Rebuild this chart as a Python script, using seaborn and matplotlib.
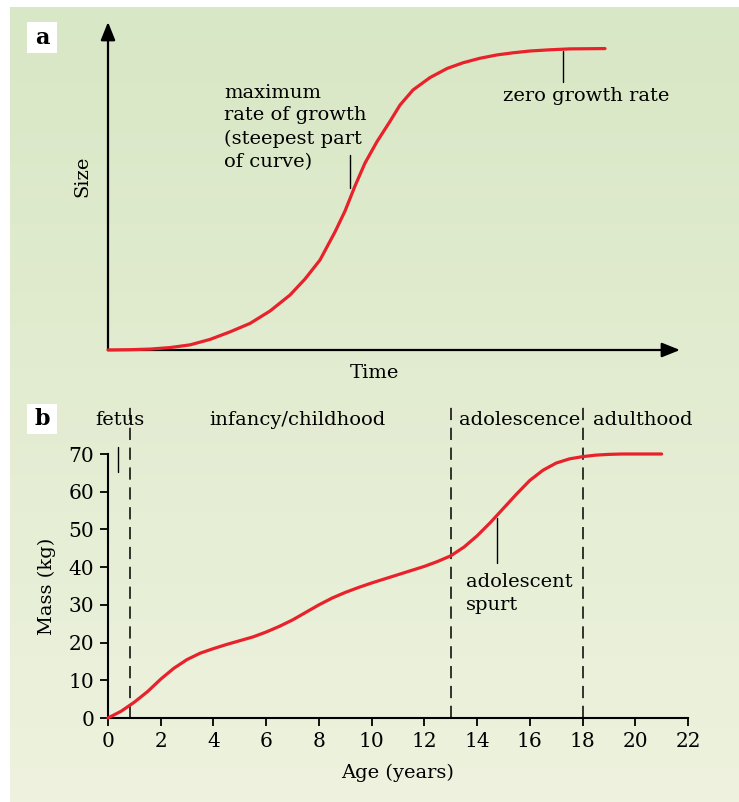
import matplotlib
matplotlib.use("Agg")
import matplotlib.pyplot as plt
from matplotlib.patches import Rectangle
import numpy as np
import pandas as pd
import seaborn as sns

# panel a: generic sigmoid growth curve (arbitrary units)
time_a = [0, 0.44, 0.84, 1.24, 1.64, 2.04, 2.44, 2.84, 3.24, 3.64, 3.94, 4.24,
          4.54, 4.74, 4.94, 5.14, 5.38, 5.64, 5.84, 6.1, 6.44, 6.78, 7.1, 7.44,
          7.78, 8.1, 8.44, 8.84, 9.24, 9.94]
size_a = [0, 0.01, 0.03, 0.08, 0.17, 0.35, 0.6, 0.88, 1.29, 1.82, 2.35, 2.98,
          3.91, 4.6, 5.43, 6.19, 6.9, 7.57, 8.11, 8.61, 9.02, 9.32, 9.51, 9.66,
          9.77, 9.84, 9.9, 9.94, 9.97, 9.98]

# panel b: human body mass with age
age = [0, 0.5, 1, 1.5, 2, 2.5, 3, 3.5, 4, 4.5, 5, 5.5, 6, 6.5, 7, 7.5, 8, 8.5,
       9, 9.5, 10, 10.5, 11, 11.5, 12, 12.5, 13, 13.5, 14, 14.5, 15, 15.5, 16,
       16.5, 17, 17.5, 18, 18.5, 19, 19.5, 20, 21]
mass = [0, 1.8, 4.2, 7, 10.3, 13.2, 15.5, 17.2, 18.4, 19.5, 20.5, 21.5, 22.8,
        24.3, 26, 28, 30, 31.8, 33.3, 34.6, 35.8, 36.9, 38, 39.1, 40.2, 41.5,
        43, 45.3, 48.3, 51.8, 55.6, 59.4, 63, 65.7, 67.6, 68.7, 69.3, 69.7,
        69.9, 70, 70, 70]
stage_bounds = [0.85, 13, 18]
stage_names = ["fetus", "infancy/childhood", "adolescence", "adulthood"]
stage_label_x = [0.45, 7.17, 15.6, 20.3]
x_ticks = list(range(0, 23, 2))
y_ticks = list(range(0, 71, 10))

RED = "#e8212b"
W, H = 739, 802

sns.set_style("white")
plt.rcParams["font.family"] = ["DejaVu Serif"]
plt.rcParams["font.size"] = 14
plt.rcParams["text.color"] = "black"
plt.rcParams["axes.labelcolor"] = "black"

fig = plt.figure(figsize=(W / 100, H / 100), dpi=100)


def box(x0, y0, x1, y1):
    # pixel box (top-left origin) -> figure fraction rect
    return [x0 / W, 1 - y1 / H, (x1 - x0) / W, (y1 - y0) / H]


# green gradient background
bg = fig.add_axes(box(10, 7, W, H))
grad = np.linspace(0, 1, 256)[:, None]
top = np.array([216, 231, 197]) / 255
bot = np.array([238, 242, 222]) / 255
img = top[None, None, :] * (1 - grad[:, :, None]) + bot[None, None, :] * grad[:, :, None]
bg.imshow(img, aspect="auto", extent=[0, 1, 0, 1])
bg.axis("off")
bg.set_zorder(-5)

# ---- panel a ----
ax1 = fig.add_axes(box(108, 22, 680, 350))
ax1.patch.set_alpha(0)
df_a = pd.DataFrame({"time": time_a, "size": size_a})
sns.lineplot(data=df_a, x="time", y="size", ax=ax1, color=RED, lw=2.3,
             zorder=5, clip_on=False, solid_joinstyle="round")
ax1.set_xlim(0, 11.44)
ax1.set_ylim(0, 10.86)
for s in ax1.spines.values():
    s.set_visible(False)
ax1.set_xticks([])
ax1.set_yticks([])
ax1.set_xlabel("")
ax1.set_ylabel("")
arrow = dict(arrowstyle="-|>,head_length=0.55,head_width=0.22", lw=1.6,
             color="black", shrinkA=0, shrinkB=0, mutation_scale=20)
ax1.annotate("", xy=(1, 0), xytext=(0, 0), xycoords="axes fraction",
             arrowprops=arrow, zorder=3)
ax1.annotate("", xy=(0, 1), xytext=(0, 0), xycoords="axes fraction",
             arrowprops=arrow, zorder=3)
ax1.plot([4.84, 4.84], [5.36, 6.46], color="black", lw=1)
ax1.plot([9.1, 9.1], [8.86, 9.91], color="black", lw=1)
ax1.text(2.32, 7.38, "maximum\nrate of growth\n(steepest part\nof curve)",
         ha="left", va="center", linespacing=1.35)
ax1.text(7.9, 8.41, "zero growth rate", ha="left", va="center")
fig.text(374 / W, 1 - 373 / H, "Time", ha="center", va="center")
fig.text(82 / W, 1 - 176 / H, "Size", ha="center", va="center", rotation=90)

# ---- panel b ----
ax2 = fig.add_axes(box(108, 454, 688, 718))
ax2.patch.set_alpha(0)
df_b = pd.DataFrame({"age": age, "mass": mass})
sns.lineplot(data=df_b, x="age", y="mass", ax=ax2, color=RED, lw=2.3,
             zorder=5, clip_on=False, solid_joinstyle="round")
ax2.set_xlim(0, 22)
ax2.set_ylim(0, 70)
ax2.set_xticks(x_ticks)
ax2.set_yticks(y_ticks)
ax2.spines["top"].set_visible(False)
ax2.spines["right"].set_visible(False)
for s in ["left", "bottom"]:
    ax2.spines[s].set_linewidth(1.5)
    ax2.spines[s].set_color("black")
ax2.tick_params(axis="both", direction="out", length=6, width=1.3,
                colors="black", labelsize=14.5, pad=4, left=True, bottom=True)
ax2.set_xlabel("Age (years)", labelpad=9)
ax2.set_ylabel("Mass (kg)", labelpad=9)
for xb in stage_bounds:
    ax2.plot([xb, xb], [0, 83], color="black", lw=1.1, ls=(0, (8, 5)),
             clip_on=False)
for name, xl in zip(stage_names, stage_label_x):
    ax2.text(xl, 79, name, ha="center", va="center", clip_on=False)
ax2.plot([0.38, 0.38], [65.2, 71.9], color="black", lw=1, clip_on=False)
ax2.plot([14.75, 14.75], [41, 53], color="black", lw=1)
ax2.text(13.58, 33, "adolescent\nspurt", ha="left", va="center",
         linespacing=1.35)

# panel letters
for letter, (y0, y1) in zip(["a", "b"], [(22, 53), (404, 434)]):
    fig.patches.append(Rectangle((27 / W, 1 - y1 / H), 30 / W, (y1 - y0) / H,
                                 transform=fig.transFigure, facecolor="white",
                                 edgecolor="none", zorder=1))
    fig.text(42 / W, 1 - (y0 + y1) / 2 / H, letter, ha="center", va="center",
             fontsize=16, fontweight="bold", zorder=2)

fig.savefig("out.png", dpi=100, facecolor="white")
